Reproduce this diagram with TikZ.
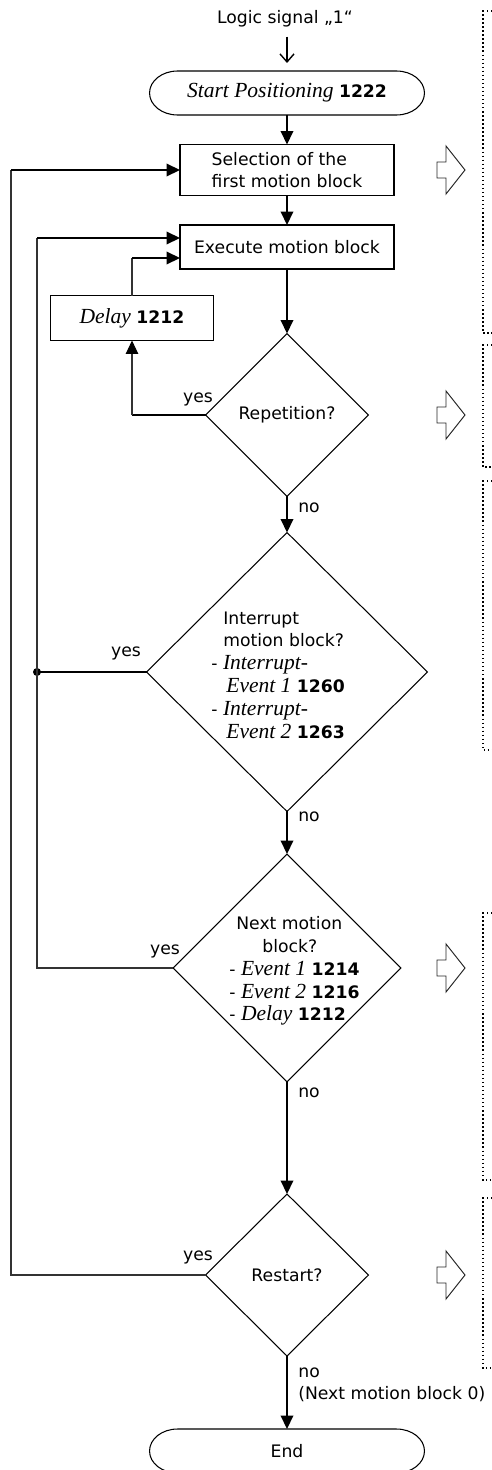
\documentclass[tikz,border=0pt]{standalone}
\usepackage{fontspec}
\setmainfont{DejaVu Sans}
\newfontfamily\tmsfont[Scale=1.25]{Liberation Serif}
\usetikzlibrary{shapes.geometric,arrows.meta}

\newcommand{\parname}[1]{{\tmsfont\itshape #1}}
\newcommand{\parnum}[1]{\textbf{#1}}

\begin{document}
\begin{tikzpicture}[x=0.02cm,y=-0.02cm,
  font=\fontsize{9.8}{13}\selectfont,
  flow/.style={line width=1.1pt,-{Triangle[length=0.27cm,width=0.25cm]}},
  thickln/.style={line width=1.1pt},
  thinln/.style={line width=0.6pt,black!80},
  blk/.style={draw,line width=0.6pt,minimum width=4.28cm,minimum height=1.02cm,inner sep=2pt,outer sep=0pt},
  term/.style={minimum width=5.5cm,minimum height=0.88cm,inner sep=0pt,outer sep=0pt},
  dec/.style={draw,diamond,line width=0.6pt,inner sep=0pt,outer sep=0pt},
  lbl/.style={inner sep=0pt},
  frame/.style={line width=0.8pt,dash pattern=on 0.8pt off 1.5pt},
  hollow/.style={line width=0.55pt,black!85}]
\useasboundingbox (0,0) rectangle (492,1470);

% main column
\node[lbl] (sig) at (285,19) {Logic signal „1“};
\coordinate (sigend) at (287,63);
\node[term] (start) at (287,93) {\parname{Start Positioning} \parnum{1222}};
\node[blk,align=left] (sel) at (287,170) {Selection of the\\first motion block};
\node[blk,minimum height=0.88cm] (exe) at (287,247) {Execute motion block};
\node[blk,minimum width=3.26cm,minimum height=0.9cm] (dly) at (132,318) {\parname{Delay} \parnum{1212}};
\node[dec,minimum width=3.26cm,minimum height=3.26cm] (rep) at (287,415) {};
\node[dec,minimum width=5.62cm,minimum height=5.58cm] (intq) at (287,672) {};
\node[dec,minimum width=4.56cm,minimum height=4.56cm] (nxt) at (287,968) {};
\node[dec,minimum width=3.26cm,minimum height=3.24cm] (rst) at (287,1275) {};
\node[term] (fin) at (287,1451) {End};

% terminal outlines
\draw[line width=0.6pt] ([xshift=0.56cm]start.north west) -- ([xshift=-0.56cm]start.north east)
  arc[start angle=90,end angle=-90,x radius=0.56cm,y radius=0.44cm]
  -- ([xshift=0.56cm]start.south west)
  arc[start angle=270,end angle=90,x radius=0.56cm,y radius=0.44cm] -- cycle;
\draw[line width=0.6pt] ([xshift=0.56cm]fin.north west) -- ([xshift=-0.56cm]fin.north east)
  arc[start angle=90,end angle=-90,x radius=0.56cm,y radius=0.44cm]
  -- ([xshift=0.56cm]fin.south west)
  arc[start angle=270,end angle=90,x radius=0.56cm,y radius=0.44cm] -- cycle;

% texts in the decisions
\node[lbl] (rep-t) at (287,415) {Repetition?};
\node[lbl,align=left,anchor=west] (intq-t) at (211,675) {\hspace*{0.24cm}Interrupt\\
  \hspace*{0.24cm}motion block?\\
  - \parname{Interrupt-}\\
  \hspace*{0.3cm}\parname{Event 1} \parnum{1260}\\
  - \parname{Interrupt-}\\
  \hspace*{0.3cm}\parname{Event 2} \parnum{1263}};
\node[lbl,align=left,anchor=west] (nxt-t) at (229,971) {\hspace*{0.14cm}Next motion\\
  \hspace*{0.66cm}block?\\
  - \parname{Event 1} \parnum{1214}\\
  - \parname{Event 2} \parnum{1216}\\
  - \parname{Delay} \parnum{1212}};
\node[lbl] (rst-t) at (287,1275) {Restart?};

% yes / no
\node[lbl] (y1) at (198,399) {yes};
\node[lbl] (y2) at (126,653) {yes};
\node[lbl] (y3) at (165,951) {yes};
\node[lbl] (y4) at (198,1257) {yes};
\node[lbl] (n1) at (309,508) {no};
\node[lbl] (n2) at (309,817) {no};
\node[lbl] (n3) at (309,1093) {no};
\node[lbl,align=left,anchor=north west] (n4) at (298,1367) {no\\(Next motion block 0)};

\coordinate (lp1) at (11,170);
\coordinate (lp2) at (37,238);
\coordinate (dot) at (37,672);
\coordinate (dl1) at (132,415);
\coordinate (dl2) at (132,258);

% connectors
\draw[line width=0.8pt,-{Straight Barb[length=0.16cm,width=0.28cm,line width=0.8pt]}] (sig.south -| sigend) ++(0,9) -- (sigend);
\draw[flow] (start) -- (sel);
\draw[flow] (sel) -- (exe);
\draw[flow] (exe) -- (rep);
\draw[flow] (rep) -- (intq);
\draw[flow] (intq) -- (nxt);
\draw[flow] (nxt) -- (rst);
\draw[flow] (rst) -- (fin);

\draw[thickln] (rep.west) -- (dl1);
\draw[thinln,-{Triangle[length=0.27cm,width=0.25cm,black]}] (dl1) -- (dly.south);
\draw[thinln] (dly.north) -- (dl2);
\draw[flow] (dl2) -- (dl2 -| exe.west);

\draw[thickln] (intq.west) -- (dot);
\fill (dot) circle (0.08cm);
\draw[thinln] (nxt.west) -| (lp2);
\draw[flow] (lp2) -- (lp2 -| exe.west);
\draw[thinln] (rst.west) -| (lp1);
\draw[flow] (lp1) -- (sel.west);

% hollow arrows and dotted frames on the right
\foreach \y in {170,415,968,1275}
  \draw[hollow] (437,\y-8) -- (446,\y-8) -- (446,\y-24) -- (465,\y) -- (446,\y+24)
    -- (446,\y+8) -- (437,\y+8) -- cycle;
\foreach \t/\b in {11/333,345/467,481/750,913/1180,1198/1368}
  \draw[frame] (492,\t) -- (483,\t) -- (483,\b) -- (492,\b);

\end{tikzpicture}
\end{document}
